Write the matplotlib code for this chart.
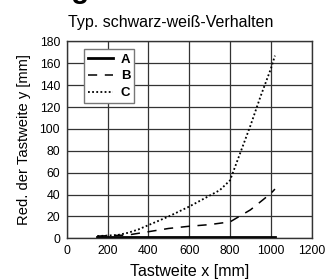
import matplotlib.pyplot as plt
import matplotlib
import numpy as np

matplotlib.rcParams['font.family'] = ['Liberation Sans', 'DejaVu Sans']

# Kurve A (durchgezogen), B (gestrichelt), C (gepunktet)
x_a = [150, 300, 500, 700, 900, 1020]
y_a = [1, 1, 1, 1, 1, 1]

x_b = [150, 300, 400, 500, 600, 700, 800, 900, 1000, 1020]
y_b = [2, 3, 6, 9, 11, 12.5, 15, 26, 41, 45]

x_c = [150, 250, 300, 350, 400, 500, 600, 700, 750, 800, 850, 900, 950, 1000, 1020]
y_c = [2, 3, 5, 8, 12, 20, 29, 39, 44, 53, 78, 103, 130, 155, 167]

labels = ['A', 'B', 'C']

fig = plt.figure(figsize=(3.26, 2.8), dpi=100)
ax = fig.add_axes([0.2046, 0.149, 0.7515, 0.703])

ax.plot(x_a, y_a, color='black', lw=2.0, ls='-', label=labels[0])
ax.plot(x_b, y_b, color='black', lw=1.1, ls=(0, (6, 5)), label=labels[1])
ax.plot(x_c, y_c, color='black', lw=1.3, ls=(0, (1, 1.3)), label=labels[2])

ax.set_xlim(0, 1200)
ax.set_ylim(0, 180)
ax.set_xticks(np.arange(0, 1400, 200))
ax.set_yticks(np.arange(0, 200, 20))
ax.grid(True, color='#333333', lw=0.9)
ax.set_axisbelow(True)
for s in ax.spines.values():
    s.set_color('#333333')
    s.set_linewidth(1.0)
ax.tick_params(labelsize=8.8, length=0, pad=4.8)

ax.set_xlabel('Tastweite x [mm]', fontsize=11.5, labelpad=5)
ax.set_ylabel('Red. der Tastweite y [mm]', fontsize=10.6, labelpad=6)
fig.text(0.525, 0.905, 'Typ. schwarz-weiß-Verhalten', fontsize=11.5,
         ha='center', va='baseline')

leg = ax.legend(loc='upper left', bbox_to_anchor=(0.07, 0.96), fancybox=False,
                edgecolor='#777777', framealpha=1, handlelength=1.9,
                handletextpad=0.6, borderpad=0.3, labelspacing=0.35,
                borderaxespad=0, prop={'weight': 'bold', 'size': 9.5})
leg.get_frame().set_linewidth(1.0)

# abgeschnittene Überschrift oben
fig.text(0.17, 1.008, 'age', fontsize=21, fontweight='bold', va='baseline', ha='left')

fig.savefig('out.png', dpi=100)
